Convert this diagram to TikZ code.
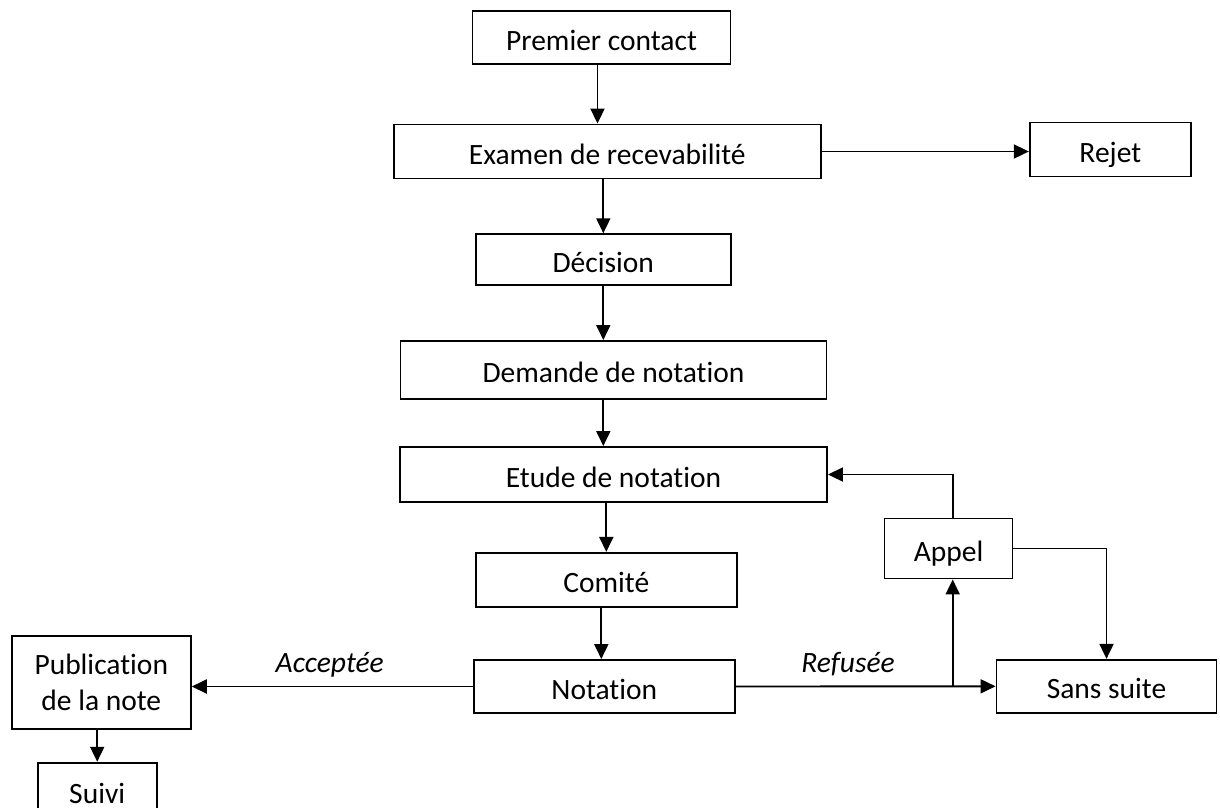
\documentclass[tikz,border=0pt]{standalone}
\usepackage{fontspec}
\setmainfont{Carlito}[Ligatures=NoCommon]
\usetikzlibrary{arrows.meta,calc}
\begin{document}
\begin{tikzpicture}[x=1pt,y=-1pt,
  every node/.style={font=\fontsize{29.5}{35.7}\selectfont},
  boxed/.style={draw=black,line width=1.9pt,inner sep=0pt,align=center},
  stage/.style={boxed,text height=25pt,text depth=0pt},
  flow/.style={line width=1.9pt,-{Triangle[length=15pt,width=14pt]}},
  tag/.style={font=\fontsize{29.5}{35.7}\selectfont\itshape,anchor=base,inner sep=0pt}]
\useasboundingbox (0,0) rectangle (1220,807);
\clip (0,0) rectangle (1220,807);

% process stages
\node[stage,minimum width=258pt,minimum height=53pt] (pc) at (601.5,37.5) {Premier contact};
\node[stage,minimum width=427pt,minimum height=54pt] (ex) at (607.3,151.5) {Examen de recevabilité};
\node[stage,minimum width=161pt,minimum height=54pt] (rj) at (1110.3,149.5) {Rejet};
\node[stage,minimum width=255pt,minimum height=51pt] (de) at (603.3,259.7) {Décision};
\node[stage,minimum width=426pt,minimum height=58pt] (dn) at (613.5,370) {Demande de notation};
\node[stage,minimum width=427pt,minimum height=55pt] (et) at (613.5,474.5) {Etude de notation};
\node[stage,minimum width=261pt,minimum height=54pt] (co) at (606.3,579.8) {Comité};
\node[stage,minimum width=261pt,minimum height=53pt] (no) at (604.3,686.5) {Notation};
\node[stage,minimum width=128pt,minimum height=60pt] (ap) at (948.5,548.5) {Appel};
\node[stage,minimum width=220pt,minimum height=53pt] (ss) at (1106.5,686.3) {Sans suite};
\node[boxed,minimum width=179pt,minimum height=93pt] (pu) at (101.3,682.3) {Publication\\de la note};
\node[boxed,minimum width=119pt,minimum height=90pt] (su) at (97.2,807.7) {};
\node[anchor=base,inner sep=0pt] (sut) at (97.2,803.5) {Suivi};

% connector anchors and the branch point on the refusal line
\coordinate (pcout) at ($(pc.south)+(-4,0)$);
\coordinate (coout) at ($(co.south)+(-5,0)$);
\coordinate (j) at (952.7,686.5);

% connectors
\draw[flow] (pcout) -- (pcout |- ex.north);
\draw[flow] (ex.east) -- (ex.east -| rj.west);
\draw[flow] (de.north |- ex.south) -- (de.north);
\draw[flow] (de.south) -- (de.south |- dn.north);
\draw[flow] (de.south |- dn.south) -- (de.south |- et.north);
\draw[flow] (co.north |- et.south) -- (co.north);
\draw[flow] (coout) -- (coout |- no.north);
\draw[flow] (no.west) -- (no.west -| pu.east);
\draw[flow] (no.east) -- (ss.west);
\draw[flow] (j) -- (j |- ap.south);
\draw[flow] (j |- ap.north) |- (et.east);
\draw[flow] (ap.east) -| (ss.north);
\draw[flow] (su.north |- pu.south) -- (su.north);

% decision labels
\node[tag] (acc) at (329.7,672.3) {Acceptée};
\node[tag] (ref) at (848,672.3) {Refusée};
\end{tikzpicture}
\end{document}
